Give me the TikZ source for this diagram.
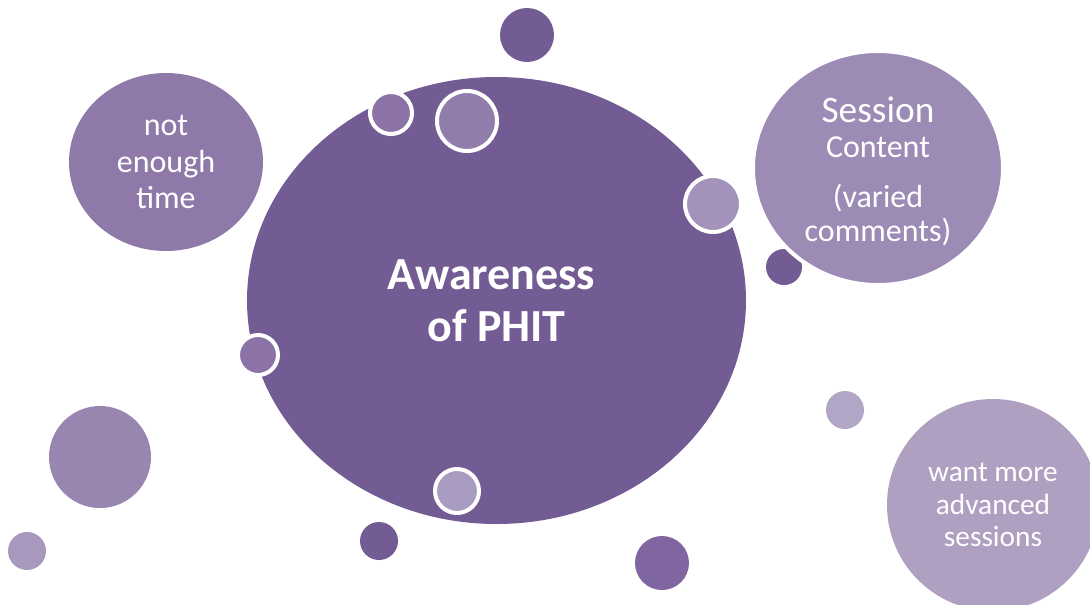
\documentclass[tikz,border=0pt]{standalone}
\usepackage{fontspec}
\setmainfont{Carlito}
\usetikzlibrary{shapes.geometric}
\definecolor{phitmain}{HTML}{735B93}
\definecolor{timefill}{HTML}{8E79A9}
\definecolor{contentfill}{HTML}{9C8BB5}
\definecolor{advfill}{HTML}{AFA0C2}
\definecolor{bigleft}{HTML}{9886B0}
\definecolor{smallleft}{HTML}{A898BE}
\definecolor{dotdark}{HTML}{735B93}
\definecolor{dotmid}{HTML}{8066A0}
\definecolor{ringA}{HTML}{8B73A7}
\definecolor{ringB}{HTML}{917DAB}
\definecolor{ringC}{HTML}{A393BA}
\definecolor{ringD}{HTML}{AA9CC0}
\definecolor{dotlight}{HTML}{B2A6C6}

\begin{document}
\begin{tikzpicture}[x=0.75pt, y=-0.75pt,
  bub/.style={circle, inner sep=0pt, minimum size=#1*1.5pt},
  ring/.style={bub=#1, draw=white, line width=3pt},
  oval/.style 2 args={ellipse, inner sep=0pt, minimum width=#1*1.5pt, minimum height=#2*1.5pt},
  txt/.style={text=white, align=center}]
\useasboundingbox (0,0) rectangle (1090,604);

% small dots at the back
\node[bub=27, fill=dotdark] (topdot) at (527,35) {};
\node[bub=18, fill=dotdark] (behinddot) at (784,267) {};

% main bubble
\node[oval={249.5}{223.5}, fill=phitmain, txt, font=\bfseries\fontsize{34.5}{39}\selectfont] (phit) at (496.5,300.5) {Awareness\kern7.7pt\\of PHIT};

% rings on the main bubble
\node[ring=21, fill=ringA] (ringtopa) at (391,113) {};
\node[ring=30, fill=ringB] (ringtopb) at (467,121) {};
\node[ring=28, fill=ringC] (ringright) at (713,204) {};
\node[ring=20, fill=ringA] (ringleft) at (258,355) {};
\node[ring=22, fill=ringD] (ringbottom) at (457,491) {};

% comment bubbles
\node[oval={97}{89}, fill=timefill, txt, font=\fontsize{24}{27.4}\selectfont] (time) at (166,162) {not\\enough\\time};
\node[oval={125}{117}, fill=contentfill, draw=white, line width=3pt, txt, font=\fontsize{24}{25}\selectfont] (content) at (878,168) {\rule{0pt}{24pt}{\fontsize{28}{30}\selectfont Session}\\[1.5pt]Content\\[12.5pt](varied\\comments)};
\node[bub=106, fill=advfill, txt, font=\fontsize{22}{24.4}\selectfont] (advanced) at (993,505) {want more\\advanced\\sessions};

% loose dots
\node[bub=51, fill=bigleft] (leftbig) at (100,457) {};
\node[bub=19, fill=smallleft] (leftsmall) at (27,551) {};
\node[bub=19, fill=dotdark] (bottomdot) at (379,541) {};
\node[bub=27, fill=dotmid] (bottomright) at (662,563) {};
\node[bub=19, fill=dotlight] (rightdot) at (845,410) {};

\end{tikzpicture}
\end{document}
